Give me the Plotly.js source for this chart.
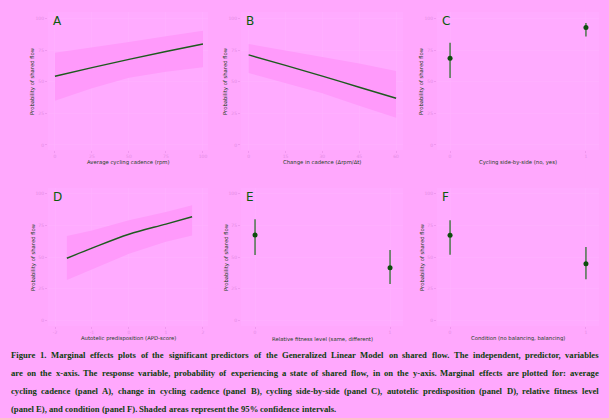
<!DOCTYPE html>
<html><head><meta charset="utf-8">
<script src="https://cdn.plot.ly/plotly-3.0.1.min.js"></script>
<style>html,body{margin:0;padding:0;background:#ffa8fd;}#chart{width:609px;height:418px;}</style>
</head><body><div id="chart"></div>
<script>
// Panel A: average cycling cadence
const cadenceX = [0, 25, 50, 75, 100];
const cadenceFit = [54.4, 61.2, 67.8, 74.0, 80.0];
const cadenceLo = [35.0, 45.0, 53.3, 58.0, 61.5];
const cadenceHi = [73.0, 77.0, 81.5, 86.0, 90.5];
// Panel B: change in cadence
const changeX = [0, 15, 30, 45, 60];
const changeFit = [71.3, 63.0, 54.5, 45.7, 37.0];
const changeLo = [57.0, 49.0, 41.0, 31.0, 21.6];
const changeHi = [80.0, 75.0, 70.0, 64.5, 58.6];
// Panel D: autotelic predisposition
const autoX = [-1.68, -1, 0, 1, 1.71];
const autoFit = [49.0, 57.0, 68.0, 76.0, 81.8];
const autoLo = [31.8, 40.0, 52.5, 62.0, 67.0];
const autoHi = [66.6, 71.0, 79.0, 85.5, 90.8];
// Panels C, E, F: binary predictors
const binX = [0, 1];
const sideFit = [68.6, 93.0];
const sideLo = [53.0, 85.8];
const sideHi = [81.0, 96.6];
const fitnessFit = [67.4, 41.5];
const fitnessLo = [51.6, 28.7];
const fitnessHi = [79.8, 55.5];
const condFit = [67.1, 44.7];
const condLo = [51.8, 32.4];
const condHi = [79.0, 57.9];

const panelLabels = ["A", "B", "C", "D", "E", "F"];
const xTitles = ["Average cycling cadence (rpm)", "Change in cadence (Δrpm/Δt)", "Cycling side-by-side (no, yes)",
  "Autotelic predisposition (APD-score)", "Relative fitness level (same, different)", "Condition (no balancing, balancing)"];
const yTitle = "Probability of shared flow";
const yTicks = [0, 25, 50, 75, 100];
const yTickText = ["0", "25", "50", "75", "100"];
const cadenceTicks = [0, 25, 50, 75, 100];
const changeTicks = [0, 15, 30, 45, 60];
const autoTicks = [-2, -1, 0, 1, 2];
const autoTickText = ["-2", "-1", "0", "1", "2"];
const binTickText = ["0", "1"];
const captionLines = [
  "Figure 1. Marginal effects plots of the significant predictors of the Generalized Linear Model on shared flow. The independent, predictor, variables",
  "are on the x-axis. The response variable, probability of experiencing a state of shared flow, in on the y-axis. Marginal effects are plotted for: average",
  "cycling cadence (panel A), change in cycling cadence (panel B), cycling side-by-side (panel C), autotelic predisposition (panel D), relative fitness level",
  "(panel E), and condition (panel F). Shaded areas represent the 95% confidence intervals."
];

const W = 609, H = 418;
const GREEN = '#1d5a1d', TXT = '#204020', TICK = '#e48ce4', BAND = '#ff9afb', GRID = '#ffb4ff';
const cols = [[48, 208], [241, 403], [437, 599]];
const rows = [[12, 150], [188, 326]];
const px = v => v / W, py = v => 1 - v / H;

const traces = [];
function band(ax, x, lo, hi, fit) {
  traces.push({x: x, y: lo, xaxis: 'x' + ax, yaxis: 'y' + ax, mode: 'lines', line: {width: 0, color: BAND}, hoverinfo: 'skip', showlegend: false});
  traces.push({x: x, y: hi, xaxis: 'x' + ax, yaxis: 'y' + ax, mode: 'lines', line: {width: 0, color: BAND}, fill: 'tonexty', fillcolor: BAND, showlegend: false});
  traces.push({x: x, y: fit, xaxis: 'x' + ax, yaxis: 'y' + ax, mode: 'lines', line: {width: 1.4, color: GREEN, shape: 'spline'}, showlegend: false});
}
function points(ax, fit, lo, hi) {
  traces.push({x: binX, y: fit, xaxis: 'x' + ax, yaxis: 'y' + ax, mode: 'markers', showlegend: false,
    marker: {size: 5, color: '#0d4d0d', symbol: 'circle'},
    error_y: {type: 'data', symmetric: false, array: hi.map((h, i) => h - fit[i]), arrayminus: fit.map((f, i) => f - lo[i]), color: '#2f6f2f', thickness: 1.3, width: 0}});
}
band('', cadenceX, cadenceLo, cadenceHi, cadenceFit);
band('2', changeX, changeLo, changeHi, changeFit);
points('3', sideFit, sideLo, sideHi);
band('4', autoX, autoLo, autoHi, autoFit);
points('5', fitnessFit, fitnessLo, fitnessHi);
points('6', condFit, condLo, condHi);

const xRanges = [[-4.7, 103.4], [-3.1, 62.8], [-0.096, 1.096], [-2.19, 2.14], [-0.104, 1.096], [-0.096, 1.096]];
const xTickVals = [cadenceTicks, changeTicks, binX, autoTicks, binX, binX];
const xTickTexts = [cadenceTicks.map(String), changeTicks.map(String), binTickText, autoTickText, binTickText, binTickText];
const yRanges = [[-4, 105.3], [-4.5, 104.5]];

const layout = {width: W, height: H, margin: {l: 0, r: 0, t: 0, b: 0}, paper_bgcolor: '#ffa8fd', plot_bgcolor: '#ffabff',
  showlegend: false, annotations: [], font: {family: 'DejaVu Sans', color: TXT}};
for (let i = 0; i < 6; i++) {
  const r = Math.floor(i / 3), c = i % 3;
  const sfx = i === 0 ? '' : String(i + 1);
  layout['xaxis' + sfx] = {domain: [px(cols[c][0]), px(cols[c][1])], anchor: 'y' + sfx, range: xRanges[i],
    tickvals: xTickVals[i], ticktext: xTickTexts[i], ticks: 'outside', ticklen: 2, tickcolor: TICK, tickwidth: 0.6,
    tickfont: {size: 4.5, color: TICK, family: 'DejaVu Sans'}, showgrid: true, gridcolor: GRID, gridwidth: 0.5, zeroline: false, showline: false, fixedrange: true};
  layout['yaxis' + sfx] = {domain: [py(rows[r][1]), py(rows[r][0])], anchor: 'x' + sfx, range: yRanges[r],
    tickvals: yTicks, ticktext: yTickText, ticks: 'outside', ticklen: 2, tickcolor: TICK, tickwidth: 0.6,
    tickfont: {size: 4.5, color: TICK, family: 'DejaVu Sans'}, showgrid: true, gridcolor: GRID, gridwidth: 0.5, zeroline: false, showline: false, fixedrange: true};
  layout.annotations.push({text: panelLabels[i], xref: 'paper', yref: 'paper', x: px(cols[c][0] + 3), y: py(rows[r][0] + 0.5),
    xanchor: 'left', yanchor: 'top', showarrow: false, font: {size: 12, color: '#0a5a0a', family: 'DejaVu Sans'}});
  layout.annotations.push({text: xTitles[i], xref: 'paper', yref: 'paper', x: px((cols[c][0] + cols[c][1]) / 2), y: py(rows[r][1] + 12.5),
    xanchor: 'center', yanchor: 'middle', showarrow: false, font: {size: 5.3, color: TXT, family: 'DejaVu Sans'}});
  layout.annotations.push({text: yTitle, xref: 'paper', yref: 'paper', x: px(cols[c][0] - 15), y: py((rows[r][0] + rows[r][1]) / 2),
    xanchor: 'center', yanchor: 'middle', textangle: -90, showarrow: false, font: {size: 5.3, color: TXT, family: 'DejaVu Sans'}});
}

// Justified caption: each word placed, lines 1-3 stretched to full width
const capY = [355, 373, 391, 409];
const capSize = 8.65, capLeft = 10, capRight = 598;
const ctx = document.createElement('canvas').getContext('2d');
ctx.font = 'bold ' + capSize + 'px "Liberation Serif"';
const spaceW = ctx.measureText(' ').width;
captionLines.forEach((t, li) => {
  const words = t.split(' ');
  const widths = words.map(w => ctx.measureText(w).width);
  const total = widths.reduce((a, b) => a + b, 0);
  const justify = li < captionLines.length - 1;
  const gap = justify ? (capRight - capLeft - total) / (words.length - 1) : spaceW;
  let x = capLeft;
  words.forEach((w, wi) => {
    layout.annotations.push({text: '<b>' + w + '</b>', xref: 'paper', yref: 'paper', x: px(x), y: py(capY[li]),
      xanchor: 'left', yanchor: 'middle', showarrow: false, borderpad: 0,
      font: {size: capSize, color: '#0d3d0d', family: 'Liberation Serif'}});
    x += widths[wi] + gap;
  });
});
document.fonts.load('bold 9px "Liberation Serif"').finally(() => {
  Plotly.newPlot('chart', traces, layout, {displayModeBar: false, staticPlot: true});
});
</script></body></html>
